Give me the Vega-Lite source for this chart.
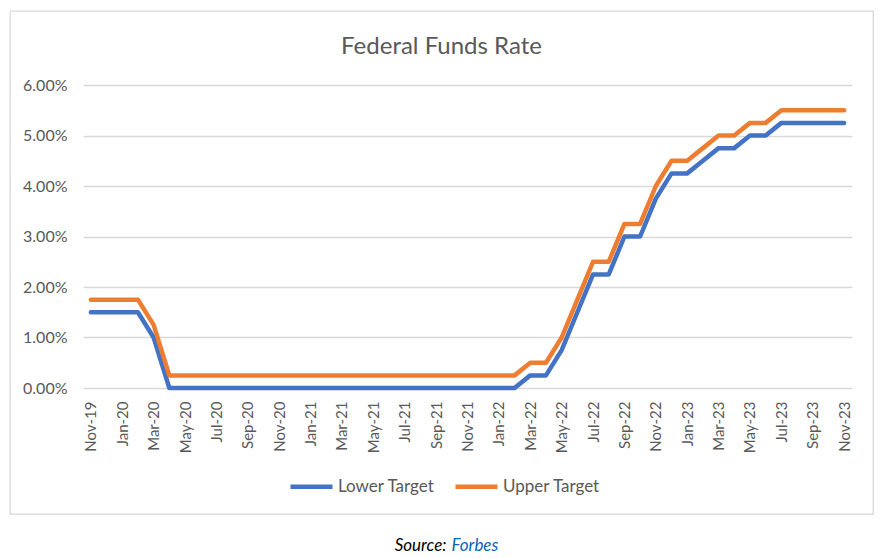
{
  "$schema": "https://vega.github.io/schema/vega-lite/v6.json",
  "width": 863,
  "height": 503,
  "autosize": {"type": "none"},
  "padding": {"left": 10, "top": 11, "right": 10, "bottom": 44},
  "background": "white",
  "title": {
    "text": "Federal Funds Rate",
    "offset": -67,
    "baseline": "alphabetic",
    "anchor": "middle",
    "frame": "group",
    "font": "Lato",
    "fontSize": 24,
    "fontWeight": "normal",
    "color": "#595959"
  },
  "data": {
    "values": [
      {"m": "Nov-19", "Lower Target": 0.015, "Upper Target": 0.0175},
      {"m": "Dec-19", "Lower Target": 0.015, "Upper Target": 0.0175},
      {"m": "Jan-20", "Lower Target": 0.015, "Upper Target": 0.0175},
      {"m": "Feb-20", "Lower Target": 0.015, "Upper Target": 0.0175},
      {"m": "Mar-20", "Lower Target": 0.01, "Upper Target": 0.0125},
      {"m": "Apr-20", "Lower Target": 0, "Upper Target": 0.0025},
      {"m": "May-20", "Lower Target": 0, "Upper Target": 0.0025},
      {"m": "Jun-20", "Lower Target": 0, "Upper Target": 0.0025},
      {"m": "Jul-20", "Lower Target": 0, "Upper Target": 0.0025},
      {"m": "Aug-20", "Lower Target": 0, "Upper Target": 0.0025},
      {"m": "Sep-20", "Lower Target": 0, "Upper Target": 0.0025},
      {"m": "Oct-20", "Lower Target": 0, "Upper Target": 0.0025},
      {"m": "Nov-20", "Lower Target": 0, "Upper Target": 0.0025},
      {"m": "Dec-20", "Lower Target": 0, "Upper Target": 0.0025},
      {"m": "Jan-21", "Lower Target": 0, "Upper Target": 0.0025},
      {"m": "Feb-21", "Lower Target": 0, "Upper Target": 0.0025},
      {"m": "Mar-21", "Lower Target": 0, "Upper Target": 0.0025},
      {"m": "Apr-21", "Lower Target": 0, "Upper Target": 0.0025},
      {"m": "May-21", "Lower Target": 0, "Upper Target": 0.0025},
      {"m": "Jun-21", "Lower Target": 0, "Upper Target": 0.0025},
      {"m": "Jul-21", "Lower Target": 0, "Upper Target": 0.0025},
      {"m": "Aug-21", "Lower Target": 0, "Upper Target": 0.0025},
      {"m": "Sep-21", "Lower Target": 0, "Upper Target": 0.0025},
      {"m": "Oct-21", "Lower Target": 0, "Upper Target": 0.0025},
      {"m": "Nov-21", "Lower Target": 0, "Upper Target": 0.0025},
      {"m": "Dec-21", "Lower Target": 0, "Upper Target": 0.0025},
      {"m": "Jan-22", "Lower Target": 0, "Upper Target": 0.0025},
      {"m": "Feb-22", "Lower Target": 0, "Upper Target": 0.0025},
      {"m": "Mar-22", "Lower Target": 0.0025, "Upper Target": 0.005},
      {"m": "Apr-22", "Lower Target": 0.0025, "Upper Target": 0.005},
      {"m": "May-22", "Lower Target": 0.0075, "Upper Target": 0.01},
      {"m": "Jun-22", "Lower Target": 0.015, "Upper Target": 0.0175},
      {"m": "Jul-22", "Lower Target": 0.0225, "Upper Target": 0.025},
      {"m": "Aug-22", "Lower Target": 0.0225, "Upper Target": 0.025},
      {"m": "Sep-22", "Lower Target": 0.03, "Upper Target": 0.0325},
      {"m": "Oct-22", "Lower Target": 0.03, "Upper Target": 0.0325},
      {"m": "Nov-22", "Lower Target": 0.0375, "Upper Target": 0.04},
      {"m": "Dec-22", "Lower Target": 0.0425, "Upper Target": 0.045},
      {"m": "Jan-23", "Lower Target": 0.0425, "Upper Target": 0.045},
      {"m": "Feb-23", "Lower Target": 0.045, "Upper Target": 0.0475},
      {"m": "Mar-23", "Lower Target": 0.0475, "Upper Target": 0.05},
      {"m": "Apr-23", "Lower Target": 0.0475, "Upper Target": 0.05},
      {"m": "May-23", "Lower Target": 0.05, "Upper Target": 0.0525},
      {"m": "Jun-23", "Lower Target": 0.05, "Upper Target": 0.0525},
      {"m": "Jul-23", "Lower Target": 0.0525, "Upper Target": 0.055},
      {"m": "Aug-23", "Lower Target": 0.0525, "Upper Target": 0.055},
      {"m": "Sep-23", "Lower Target": 0.0525, "Upper Target": 0.055},
      {"m": "Oct-23", "Lower Target": 0.0525, "Upper Target": 0.055},
      {"m": "Nov-23", "Lower Target": 0.0525, "Upper Target": 0.055}
    ]
  },
  "transform": [
    {"fold": ["Lower Target", "Upper Target"], "as": ["series", "rate"]}
  ],
  "mark": {"type": "line", "strokeWidth": 4.5, "strokeCap": "round", "strokeJoin": "round"},
  "encoding": {
    "x": {
      "field": "m",
      "type": "ordinal",
      "sort": null,
      "scale": {"type": "point", "padding": 0.5, "range": [73, 842]},
      "axis": {
        "orient": "bottom",
        "offset": -126,
        "values": ["Nov-19","Jan-20","Mar-20","May-20","Jul-20","Sep-20","Nov-20","Jan-21","Mar-21","May-21","Jul-21","Sep-21","Nov-21","Jan-22","Mar-22","May-22","Jul-22","Sep-22","Nov-22","Jan-23","Mar-23","May-23","Jul-23","Sep-23","Nov-23"],
        "labelAngle": -90,
        "labelPadding": 13,
        "labelFont": "Lato",
        "labelFontSize": 15,
        "labelColor": "#595959",
        "ticks": false,
        "tickSize": 0,
        "domain": false,
        "grid": false,
        "title": "Source:",
        "titleAngle": 0,
        "titleX": 436,
        "titleY": 162,
        "titleAlign": "right",
        "titleBaseline": "alphabetic",
        "titleFont": "Lato",
        "titleFontSize": 17,
        "titleFontStyle": "italic",
        "titleFontWeight": "normal",
        "titleColor": "#000000"
      }
    },
    "y": {
      "field": "rate",
      "type": "quantitative",
      "scale": {"domain": [0, 0.06], "nice": false, "range": [377, 74]},
      "axis": {
        "orient": "left",
        "offset": -73,
        "values": [0, 0.01, 0.02, 0.03, 0.04, 0.05, 0.06],
        "format": ".2%",
        "labelPadding": 16,
        "labelFont": "Lato",
        "labelFontSize": 16,
        "labelColor": "#595959",
        "ticks": false,
        "tickSize": 0,
        "domain": false,
        "grid": true,
        "gridColor": "#d9d9d9",
        "gridWidth": 1.3,
        "title": "Forbes",
        "titleAngle": 0,
        "titleX": 368,
        "titleY": 539,
        "titleAlign": "left",
        "titleBaseline": "alphabetic",
        "titleFont": "Lato",
        "titleFontSize": 17,
        "titleFontStyle": "italic",
        "titleFontWeight": "normal",
        "titleColor": "#0563C1"
      }
    },
    "color": {
      "field": "series",
      "type": "nominal",
      "scale": {"domain": ["Lower Target", "Upper Target"], "range": ["#4472C4", "#ED7D31"]},
      "legend": {
        "orient": "none",
        "legendX": 278,
        "legendY": 452,
        "direction": "horizontal",
        "title": null,
        "symbolType": "stroke",
        "symbolSize": 1764,
        "symbolStrokeWidth": 4.5,
        "labelFont": "Lato",
        "labelFontSize": 17,
        "labelColor": "#595959",
        "labelOffset": 3,
        "columnPadding": 11
      }
    }
  },
  "config": {
    "view": {"stroke": "#d9d9d9", "strokeWidth": 1.3}
  }
}
